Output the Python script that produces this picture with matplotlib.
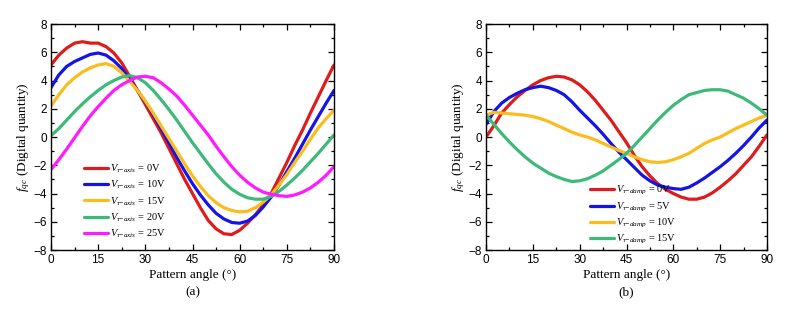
import matplotlib
matplotlib.use("Agg")
import matplotlib.pyplot as plt
from matplotlib.ticker import MultipleLocator

plt.rcParams['mathtext.fontset'] = 'custom'
plt.rcParams['mathtext.rm'] = 'Liberation Serif'
plt.rcParams['mathtext.it'] = 'Liberation Serif:italic'
plt.rcParams['mathtext.bf'] = 'Liberation Serif:bold'

# Pattern angle samples (degrees), shared by all series
angle = [0, 2.5, 5, 7.5, 10, 12.5, 15, 17.5, 20, 22.5, 25, 27.5, 30, 32.5, 35, 37.5,
         40, 42.5, 45, 47.5, 50, 52.5, 55, 57.5, 60, 62.5, 65, 67.5, 70, 72.5, 75,
         77.5, 80, 82.5, 85, 87.5, 90]

# ---- Panel (a): V_tau-axis ----
red_a = [5.1, 5.8, 6.3, 6.65, 6.75, 6.65, 6.65, 6.4, 5.95, 5.25, 4.3, 3.3, 2.3, 1.3, 0.3, -0.8,
         -1.9, -3.0, -4.0, -5.0, -5.9, -6.5, -6.85, -6.9, -6.6, -6.1, -5.5, -4.8, -4.0, -2.9, -1.8,
         -0.6, 0.5, 1.7, 2.85, 4.0, 5.1]
blue_a = [3.5, 4.4, 5.0, 5.35, 5.6, 5.85, 5.95, 5.8, 5.4, 4.85, 4.1, 3.3, 2.5, 1.6, 0.6, -0.4,
          -1.45, -2.4, -3.3, -4.1, -4.8, -5.4, -5.8, -6.05, -6.1, -5.95, -5.55, -4.95, -4.25, -3.4, -2.45,
          -1.5, -0.5, 0.5, 1.45, 2.4, 3.3]
yellow_a = [2.2, 3.0, 3.7, 4.2, 4.6, 4.9, 5.1, 5.2, 5.0, 4.55, 3.95, 3.3, 2.55, 1.7, 0.8, -0.1,
            -1.0, -1.9, -2.75, -3.5, -4.15, -4.65, -5.0, -5.2, -5.3, -5.25, -5.0, -4.6, -4.1, -3.4, -2.65,
            -1.8, -1.0, -0.15, 0.65, 1.3, 1.9]
green_a = [0.1, 0.6, 1.2, 1.8, 2.35, 2.85, 3.3, 3.7, 4.0, 4.25, 4.35, 4.2, 3.85, 3.3, 2.65, 1.95,
           1.2, 0.4, -0.4, -1.15, -1.9, -2.6, -3.2, -3.7, -4.05, -4.3, -4.4, -4.4, -4.2, -3.85, -3.4,
           -2.9, -2.35, -1.75, -1.15, -0.5, 0.15]
magenta_a = [-2.3, -1.6, -0.85, -0.05, 0.75, 1.5, 2.15, 2.75, 3.3, 3.7, 4.0, 4.25, 4.3, 4.2, 3.85, 3.4,
             2.9, 2.25, 1.55, 0.85, 0.15, -0.65, -1.4, -2.1, -2.7, -3.2, -3.6, -3.9, -4.05, -4.15, -4.2,
             -4.1, -3.9, -3.6, -3.2, -2.7, -2.1]
labels_a = ['0V', '10V', '15V', '20V', '25V']

# ---- Panel (b): V_tau-damp ----
red_b = [0.0, 0.8, 1.7, 2.3, 2.85, 3.3, 3.7, 4.0, 4.2, 4.3, 4.25, 4.05, 3.7, 3.2, 2.6, 1.9,
         1.2, 0.4, -0.4, -1.3, -2.1, -2.75, -3.3, -3.7, -4.0, -4.25, -4.4, -4.4, -4.25, -3.95, -3.55,
         -3.1, -2.6, -2.0, -1.4, -0.65, 0.15]
blue_b = [0.9, 1.8, 2.4, 2.8, 3.1, 3.35, 3.5, 3.6, 3.5, 3.3, 3.0, 2.5, 1.9, 1.35, 0.8, 0.2,
          -0.45, -1.05, -1.6, -2.15, -2.7, -3.1, -3.4, -3.55, -3.65, -3.7, -3.55, -3.25, -2.9, -2.5, -2.1,
          -1.65, -1.15, -0.6, 0.0, 0.65, 1.2]
yellow_b = [1.55, 1.75, 1.7, 1.65, 1.6, 1.55, 1.45, 1.3, 1.1, 0.85, 0.6, 0.35, 0.15, 0.0, -0.2, -0.45,
            -0.7, -0.95, -1.15, -1.4, -1.6, -1.75, -1.8, -1.75, -1.6, -1.4, -1.15, -0.8, -0.45, -0.2, 0.0,
            0.3, 0.6, 0.85, 1.1, 1.35, 1.55]
green_b = [1.55, 0.9, 0.25, -0.35, -0.9, -1.4, -1.85, -2.2, -2.55, -2.8, -3.0, -3.15, -3.1, -2.95, -2.7, -2.4,
           -2.0, -1.6, -1.15, -0.6, 0.0, 0.6, 1.2, 1.75, 2.25, 2.65, 3.0, 3.15, 3.3, 3.35, 3.35,
           3.25, 3.0, 2.75, 2.4, 2.0, 1.55]
labels_b = ['0V', '5V', '10V', '15V']

colors_a = ['#e01b1b', '#1414e6', '#fbbd1c', '#3dba7a', '#ff1aff']
colors_b = ['#e01b1b', '#1414e6', '#fbbd1c', '#3dba7a']

fig = plt.figure(figsize=(7.93, 3.11), dpi=100)
ax1 = fig.add_axes([0.0643, 0.196, 0.3569, 0.7267])
ax2 = fig.add_axes([0.6129, 0.196, 0.3543, 0.7267])

serif = 'Liberation Serif'
sans = 'Liberation Sans'

for y, c, lab in zip([red_a, blue_a, yellow_a, green_a, magenta_a], colors_a, labels_a):
    ax1.plot(angle, y, color=c, lw=2.3, solid_joinstyle='round', solid_capstyle='round',
             label=r'$V_{\tau\mathrm{-}axis}$' + ' = ' + lab)

for y, c, lab in zip([red_b, blue_b, yellow_b, green_b], colors_b, labels_b):
    ax2.plot(angle, y, color=c, lw=2.3, solid_joinstyle='round', solid_capstyle='round',
             label=r'$V_{\tau\mathrm{-}damp}$' + ' = ' + lab)

for ax, tag in [(ax1, '(a)'), (ax2, '(b)')]:
    ax.set_xlim(0, 90)
    ax.set_ylim(-8, 8)
    ax.xaxis.set_major_locator(MultipleLocator(15))
    ax.xaxis.set_minor_locator(MultipleLocator(7.5))
    ax.yaxis.set_major_locator(MultipleLocator(2))
    ax.yaxis.set_minor_locator(MultipleLocator(1))
    ax.tick_params(which='both', direction='in', top=True, right=True, width=0.9)
    ax.tick_params(which='major', length=4, labelsize=8.5, pad=3)
    ax.tick_params(which='minor', length=2)
    for lbl in ax.get_xticklabels() + ax.get_yticklabels():
        lbl.set_fontfamily(sans)
    for s in ax.spines.values():
        s.set_linewidth(1.0)
    ax.set_xlabel('Pattern angle (°)', fontfamily=serif, fontsize=9.5, labelpad=2)
    ax.set_ylabel(r'$f_{qc}$ (Digital quantity)', fontfamily=serif, fontsize=9.5, labelpad=1)
    ax.text(0.5, -0.186, tag, transform=ax.transAxes, ha='center', va='center',
            fontfamily=serif, fontsize=9.5)

ax1.legend(loc='lower left', bbox_to_anchor=(0.09, 0.013), frameon=False,
           prop={'family': serif, 'size': 7.5}, handlelength=2.3,
           handletextpad=0.2, labelspacing=0.35, borderpad=0.2)
ax2.legend(loc='lower left', bbox_to_anchor=(0.345, -0.015), frameon=False,
           prop={'family': serif, 'size': 7.5}, handlelength=2.3,
           handletextpad=0.2, labelspacing=0.3, borderpad=0.2)

fig.savefig('out.png', dpi=100)
